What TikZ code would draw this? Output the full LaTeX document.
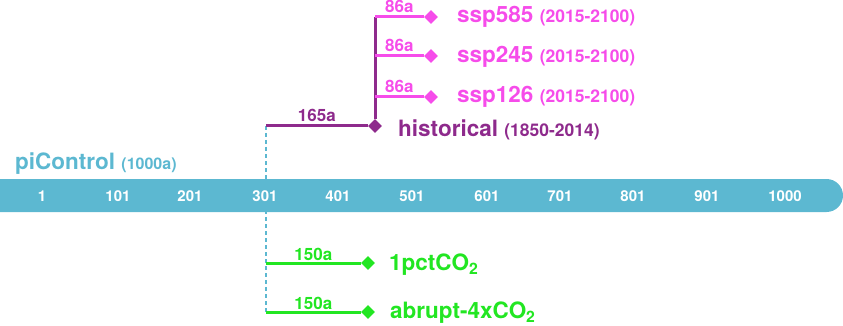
\documentclass[tikz,border=0pt]{standalone}
\usepackage{fontspec}
\setmainfont{TeX Gyre Heros}
\usetikzlibrary{shapes.geometric,positioning}
\definecolor{ctrlblue}{HTML}{5CB8D1}
\definecolor{histpurple}{HTML}{8E2A8C}
\definecolor{ssppink}{HTML}{F64CEA}
\definecolor{co2green}{HTML}{22E622}

\begin{document}
\begin{tikzpicture}[
    x=1pt,y=-1pt,
    tip/.style={diamond,fill=#1,inner sep=0pt,minimum size=14pt},
    branch/.style={line width=3pt,draw=#1},
    expname/.style={anchor=base west,inner sep=0pt,font=\fontsize{22.5}{22.5}\selectfont\bfseries},
    period/.style={font=\fontsize{17.5}{17.5}\selectfont},
    span/.style={anchor=base,inner sep=0pt,font=\fontsize{17}{17}\selectfont\bfseries},
    yearlab/.style={anchor=base,inner sep=0pt,text=white,font=\fontsize{15}{15}\selectfont\bfseries}
]
    \useasboundingbox (0,0) rectangle (843,326);

    % branch points on the control run
    \coordinate (br) at (266,126);
    \coordinate (g1) at (266,263);
    \coordinate (g2) at (266,312);
    \draw[ctrlblue,line width=1.3pt,dash pattern=on 4pt off 3pt] (br) -- (g2);

    % piControl bar
    \fill[ctrlblue] (0,179) [rounded corners=16.5] -- (843,179) -- (843,212) [sharp corners] -- (0,212) -- cycle;
    \node[expname,text=ctrlblue] (ctrl) at (15,169)
        {piControl {\fontsize{16}{16}\selectfont(1000a)}};
    \foreach \yr/\x in {1/42,101/118,201/190,301/265,401/338,501/412,601/487,701/560,801/633,901/707,1000/785}
        \node[yearlab] (y\yr) at (\x,201) {\yr};

    % historical and scenarios
    \node[tip=histpurple] (dhist) at (375,126) {};
    \node[expname,text=histpurple] (hist) at (398,136) {historical {\fontsize{17.5}{17.5}\selectfont(1850-2014)}};
    \draw[branch=histpurple] (br) -- node[span,text=histpurple,above=3pt] (l165) {165a} (dhist);
    \coordinate (j585) at (375,17);
    \coordinate (j245) at (375,56);
    \coordinate (j126) at (375,97);
    \draw[branch=histpurple] (dhist) -- (j585);
    \foreach \s/\y/\b in {585/17/23,245/56/63,126/97/103}{
        \node[tip=ssppink] (d\s) at (431,\y) {};
        \node[expname,text=ssppink] (ssp\s) at (457,\b) {ssp\s\ {\fontsize{17.5}{17.5}\selectfont(2015-2100)}};
        \draw[branch=ssppink] (j\s) -- node[span,text=ssppink,above=3pt] {86a} (d\s);
    }

    % idealized CO2 runs
    \node[tip=co2green] (dpct) at (368,263) {};
    \node[tip=co2green] (dabr) at (368,312) {};
    \node[expname,text=co2green] (pct) at (389,270) {1pctCO\textsubscript{2}};
    \node[expname,text=co2green] (abr) at (390,318) {abrupt-4xCO\textsubscript{2}};
    \draw[branch=co2green] (g1) -- node[span,text=co2green,above=1pt] {150a} (dpct);
    \draw[branch=co2green] (g2) -- node[span,text=co2green,above=1pt] {150a} (dabr);
\end{tikzpicture}
\end{document}
